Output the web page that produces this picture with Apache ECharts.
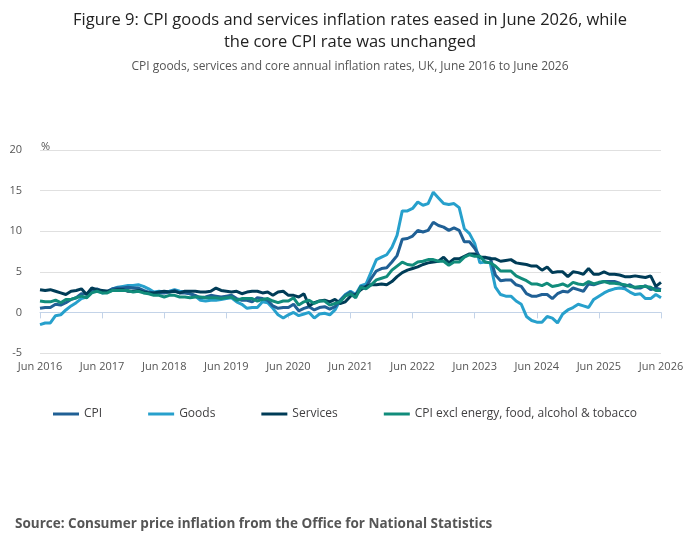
<!DOCTYPE html>
<html lang="en">
<head>
<meta charset="UTF-8">
<title>Figure 9</title>
<script src="https://cdn.jsdelivr.net/npm/echarts@6/dist/echarts.min.js"></script>
<style>html,body{margin:0;padding:0;background:#fff;}</style>
</head>
<body>
<div id="chart" style="width:700px;height:549px;"></div>
<script>
    // months Jun 2016 .. Jun 2026
    var months = [];
    var names = ['Jan','Feb','Mar','Apr','May','Jun','Jul','Aug','Sep','Oct','Nov','Dec'];
    for (var i = 0; i <= 120; i++) {
        var m = (5 + i) % 12, y = 2016 + Math.floor((5 + i) / 12);
        months.push(names[m] + ' ' + y);
    }

    var cpi = [
        0.5,0.6,0.6,1.0,0.9,1.2,1.6,1.8,2.3,2.3,2.7,2.9,
        2.6,2.6,2.9,3.0,3.0,3.1,3.0,3.0,2.7,2.5,2.4,2.4,
        2.4,2.5,2.7,2.4,2.4,2.3,2.1,1.8,1.9,2.1,2.0,1.9,
        2.0,2.1,1.7,1.5,1.5,1.3,1.8,1.7,1.5,0.8,0.5,0.6,
        0.6,1.0,0.2,0.5,0.7,0.3,0.6,0.7,0.4,0.7,1.5,2.1,
        2.5,2.0,3.2,3.1,4.2,5.1,5.4,5.5,6.2,7.0,9.0,9.1,
        9.4,10.1,9.9,10.1,11.1,10.7,10.5,10.1,10.4,10.1,8.7,8.7,
        7.9,6.8,6.7,6.7,4.6,3.9,4.0,4.0,3.4,3.2,2.3,2.0,
        2.0,2.2,2.2,1.7,2.3,2.6,2.5,3.0,2.8,2.6,3.5,3.4,
        3.6,3.8,3.8,3.8,3.6,3.2,3.4,3.0,3.0,3.3,2.8,3.0,
        2.8
    ];
    var goods = [
        -1.5,-1.3,-1.3,-0.4,-0.3,0.3,0.8,1.2,1.7,1.9,2.5,2.7,
        2.4,2.5,2.9,3.1,3.2,3.3,3.3,3.4,3.2,2.9,2.5,2.6,
        2.5,2.6,2.8,2.6,2.5,2.3,2.0,1.5,1.4,1.5,1.5,1.6,
        1.7,1.8,1.3,1.0,0.5,0.6,0.6,1.3,1.2,0.5,-0.3,-0.7,
        -0.3,0.0,-0.4,-0.2,0.0,-0.7,-0.2,-0.1,-0.3,0.3,1.5,2.2,
        2.6,2.2,3.3,3.5,5.0,6.5,6.8,7.1,8.0,9.5,12.5,12.5,
        12.8,13.6,13.2,13.4,14.8,14.1,13.4,13.3,13.4,12.9,10.3,9.7,
        8.5,6.1,6.2,6.1,3.1,2.2,2.0,2.0,1.4,1.0,-0.5,-1.0,
        -1.2,-1.2,-0.5,-0.7,-1.3,-0.2,0.3,0.6,1.0,0.8,0.6,1.6,
        2.0,2.4,2.7,2.9,3.0,2.9,2.5,2.2,2.3,1.7,1.7,2.2,
        1.8
    ];
    var services = [
        2.8,2.7,2.8,2.6,2.4,2.2,2.6,2.7,2.9,2.2,3.0,2.8,
        2.7,2.6,2.7,2.8,2.8,2.6,2.6,2.7,2.5,2.4,2.4,2.5,
        2.6,2.5,2.6,2.4,2.6,2.6,2.6,2.5,2.5,2.6,3.0,2.7,
        2.6,2.5,2.6,2.3,2.5,2.6,2.6,2.4,2.5,2.1,2.5,2.6,
        2.1,2.1,1.9,2.3,0.8,1.2,1.4,1.5,1.3,1.6,1.1,1.3,
        2.0,2.2,2.8,3.2,3.4,3.4,3.5,3.4,3.8,4.4,4.9,5.2,
        5.4,5.6,5.9,6.1,6.2,6.3,6.8,6.1,6.6,6.6,6.9,7.2,
        7.2,6.8,6.8,6.6,6.6,6.3,6.4,6.5,6.1,6.0,5.9,5.7,
        5.7,5.2,5.6,4.9,5.0,5.0,4.4,5.0,4.9,4.7,5.4,4.7,
        4.7,5.0,4.7,4.7,4.6,4.4,4.4,4.5,4.4,4.3,4.5,3.2,
        3.7
    ];
    var core = [
        1.4,1.3,1.3,1.5,1.2,1.6,1.6,1.8,2.0,1.8,2.4,2.6,
        2.4,2.4,2.7,2.7,2.7,2.7,2.5,2.6,2.4,2.3,2.1,2.1,
        1.9,2.1,2.1,1.9,1.9,1.8,1.9,1.9,1.8,1.8,1.8,1.7,
        1.8,1.9,1.5,1.7,1.7,1.7,1.4,1.6,1.7,1.4,1.2,1.4,
        1.4,1.8,0.9,1.3,1.5,1.1,1.4,1.4,0.9,1.1,1.3,2.0,
        2.3,1.8,3.1,2.9,3.4,4.0,4.2,4.4,5.2,5.7,6.2,5.9,
        5.8,6.2,6.3,6.5,6.5,6.3,6.3,5.8,6.2,6.2,6.8,7.1,
        6.9,6.9,6.2,6.1,5.7,5.1,5.1,5.1,4.5,4.2,3.9,3.5,
        3.5,3.3,3.6,3.2,3.3,3.5,3.2,3.7,3.5,3.4,3.8,3.5,
        3.7,3.8,3.6,3.6,3.5,3.4,3.2,3.1,3.2,3.2,3.1,2.7,
        2.7
    ];

    var colors = ['#206095', '#27a0cc', '#003c57', '#118c7b'];
    var seriesNames = ['CPI', 'Goods', 'Services', 'CPI excl energy, food, alcohol & tobacco'];
    var seriesData = [cpi, goods, services, core];

    var chart = echarts.init(document.getElementById('chart'));
    chart.setOption({
        backgroundColor: '#ffffff',
        textStyle: {fontFamily: 'Open Sans'},
        color: colors,
        title: [{
            text: 'Figure 9: CPI goods and services inflation rates eased in June 2026, while\nthe core CPI rate was unchanged',
            left: 'center', top: 4,
            textStyle: {fontSize: 16.5, fontWeight: 'normal', color: '#222222', lineHeight: 22, fontFamily: 'Open Sans'}
        }, {
            text: 'CPI goods, services and core annual inflation rates, UK, June 2016 to June 2026',
            left: 'center', top: 56,
            textStyle: {fontSize: 12, fontWeight: 'normal', color: '#555555', fontFamily: 'Open Sans'}
        }, {
            text: '%', left: 36, top: 136,
            textStyle: {fontSize: 11, fontWeight: 'normal', color: '#555555'}
        }, {
            text: 'Source: Consumer price inflation from the Office for National Statistics',
            left: 10, top: 512,
            textStyle: {fontSize: 13.5, fontWeight: 'bold', color: '#555555', fontFamily: 'Open Sans'}
        }],
        legend: {
            bottom: 124, left: 48, itemWidth: 26, itemHeight: 3, itemGap: 46,
            icon: 'rect',
            textStyle: {fontSize: 12, color: '#414042'},
            data: seriesNames
        },
        grid: {left: 40, right: 39, top: 150, bottom: 196},
        xAxis: {
            type: 'category', boundaryGap: false, data: months,
            axisLine: {lineStyle: {color: '#c3d3e8'}},
            axisTick: {interval: 11, length: 6, lineStyle: {color: '#c3d3e8'}},
            axisLabel: {interval: 11, color: '#555555', fontSize: 11}
        },
        yAxis: {
            type: 'value', min: -5, max: 20, interval: 5,
            axisLine: {show: false}, axisTick: {show: false},
            axisLabel: {color: '#555555', fontSize: 11, margin: 18},
            splitLine: {lineStyle: {color: '#e0e0e0'}}
        },
        series: seriesData.map(function (d, i) {
            return {
                name: seriesNames[i], type: 'line', data: d, symbol: 'none',
                lineStyle: {width: 3, color: colors[i]}, z: [2, 1, 3, 4][i]
            };
        })
    });
</script>
</body>
</html>
